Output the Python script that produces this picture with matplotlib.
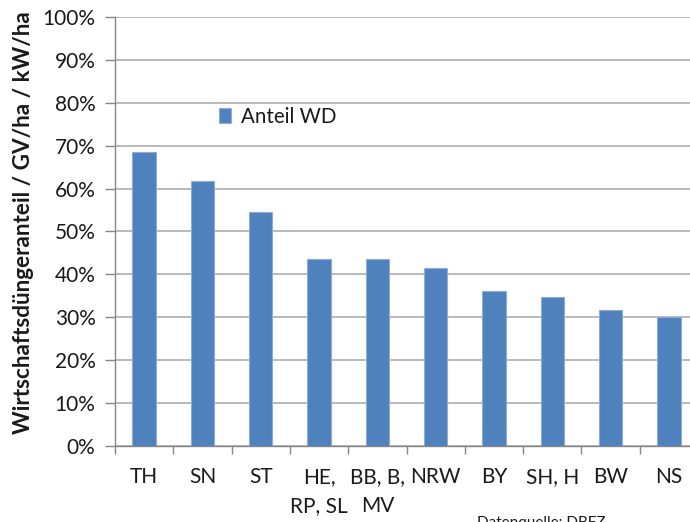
import matplotlib
matplotlib.use("Agg")
import matplotlib.pyplot as plt
from matplotlib.ticker import PercentFormatter, FixedLocator, NullFormatter

plt.rcParams['font.family'] = ['Lato', 'DejaVu Sans']

# Share of farm manure per federal state group
categories = ["TH", "SN", "ST", "HE,\nRP, SL", "BB, B,\nMV", "NRW", "BY", "SH, H", "BW", "NS"]
anteil_wd = [68.5, 61.8, 54.6, 43.6, 43.5, 41.6, 36.1, 34.7, 31.6, 30.0]
y_ticks = [0, 10, 20, 30, 40, 50, 60, 70, 80, 90, 100]

W, H = 690, 522
fig = plt.figure(figsize=(W / 100, H / 100), dpi=100)
# plot area runs past the right edge of the figure
left, right, bottom, top = 115, 698, 446, 17
ax = fig.add_axes([left / W, 1 - bottom / H, (right - left) / W, (bottom - top) / H])

bar_color = "#4F81BD"
x = list(range(len(categories)))
bars = ax.bar(x, anteil_wd, width=0.4, color=bar_color, edgecolor="#8EADD6",
              linewidth=0.8, label="Anteil WD", zorder=3)

ax.set_xlim(-0.5, len(categories) - 0.5)
ax.set_ylim(0, 100)
ax.set_yticks(y_ticks)
ax.yaxis.set_major_formatter(PercentFormatter(decimals=0))
ax.yaxis.grid(True, color="#B4B4B4", linewidth=1.3, zorder=0)
ax.set_axisbelow(True)

# x ticks at category boundaries, labels at category centres
ax.xaxis.set_major_locator(FixedLocator([i - 0.5 for i in range(len(categories) + 1)]))
ax.xaxis.set_major_formatter(NullFormatter())
ax.xaxis.set_minor_locator(FixedLocator(x))
ax.set_xticklabels(categories, minor=True, fontsize=15, color="#1a1a1a",
                   linespacing=1.6, va="top")
ax.tick_params(axis="x", which="minor", length=0, pad=15)
ax.tick_params(axis="x", which="major", length=6, width=1, color="#868686", direction="out")
ax.tick_params(axis="y", length=7, width=1, color="#868686", direction="out",
               labelsize=15, labelcolor="#1a1a1a", pad=7)

for s in ["top", "right"]:
    ax.spines[s].set_visible(False)
for s in ["left", "bottom"]:
    ax.spines[s].set_color("#868686")
    ax.spines[s].set_linewidth(1.0)

fig.text(24 / W, 1 - 223 / H, "Wirtschaftsdüngeranteil / GV/ha / kW/ha", rotation=90,
         ha="center", va="center", fontsize=16.2, fontweight="bold", color="#1a1a1a")

leg = ax.legend(loc="upper left", bbox_to_anchor=((219 - left) / (right - left), 1 - (107 - top) / (bottom - top)),
                frameon=False, fontsize=14.8, handlelength=0.6, handleheight=0.75,
                handletextpad=0.45, borderaxespad=0, borderpad=0)
for t in leg.get_texts():
    t.set_color("#1a1a1a")

fig.text(477 / W, 1 - 516 / H, "Datenquelle: DBFZ", ha="left", va="top",
         fontsize=11, color="#1a1a1a")

fig.savefig("out.png", dpi=100)
